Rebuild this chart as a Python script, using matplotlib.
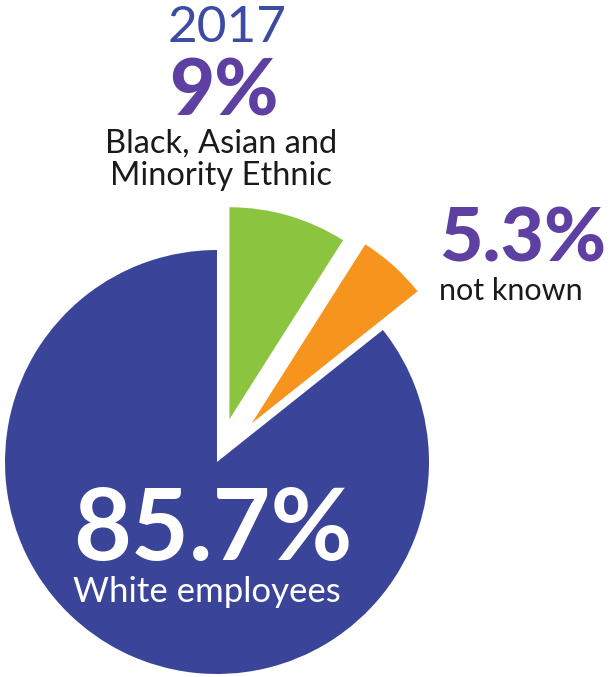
import matplotlib
matplotlib.use("Agg")
import matplotlib.pyplot as plt

# Data
categories = ["Black, Asian and\nMinority Ethnic", "not known", "White employees"]
values = [9.0, 5.3, 85.7]
pct_labels = ["9%", "5.3%", "85.7%"]
year_label = "2017"
colors = ["#8BC540", "#F7941D", "#3A4599"]
explode_frac = [0.21, 0.245, 0.0]

W, H = 616, 677
fig = plt.figure(figsize=(W / 100, H / 100), dpi=100)
ax = fig.add_axes([0, 0, 1, 1])

cx, cy, r = 217, H - 462, 212
ax.pie(values, colors=colors, explode=[e * r for e in explode_frac],
       startangle=90, counterclock=False,
       center=(cx, cy), radius=r, frame=True,
       wedgeprops=dict(linewidth=0))
ax.set_xlim(0, W)
ax.set_ylim(0, H)
ax.set_aspect("equal")
ax.axis("off")

font = "Lato"
purple = "#5E3FA2"
ax.text(227, H - 42, year_label, ha="center", va="baseline", fontsize=37,
        color="#3D4BA3", family=font, fontweight="normal")
ax.text(224, H - 115, pct_labels[0], ha="center", va="baseline", fontsize=56,
        color=purple, family=font, fontweight="black")
ax.text(221, H - 153, categories[0].split("\n")[0], ha="center", va="baseline",
        fontsize=23.5, color="#1a1a1a", family=font)
ax.text(221, H - 185, categories[0].split("\n")[1], ha="center", va="baseline",
        fontsize=23.5, color="#1a1a1a", family=font)

ax.text(439, H - 262, pct_labels[1], ha="left", va="baseline", fontsize=54,
        color=purple, family=font, fontweight="black")
ax.text(439, H - 300, categories[1], ha="left", va="baseline", fontsize=22,
        color="#1a1a1a", family=font)

ax.text(213, H - 560, pct_labels[2], ha="center", va="baseline", fontsize=72,
        color="white", family=font, fontweight="bold")
ax.text(207, H - 602, categories[2], ha="center", va="baseline", fontsize=25,
        color="white", family=font)

fig.savefig("out.png", dpi=100, facecolor="white")
